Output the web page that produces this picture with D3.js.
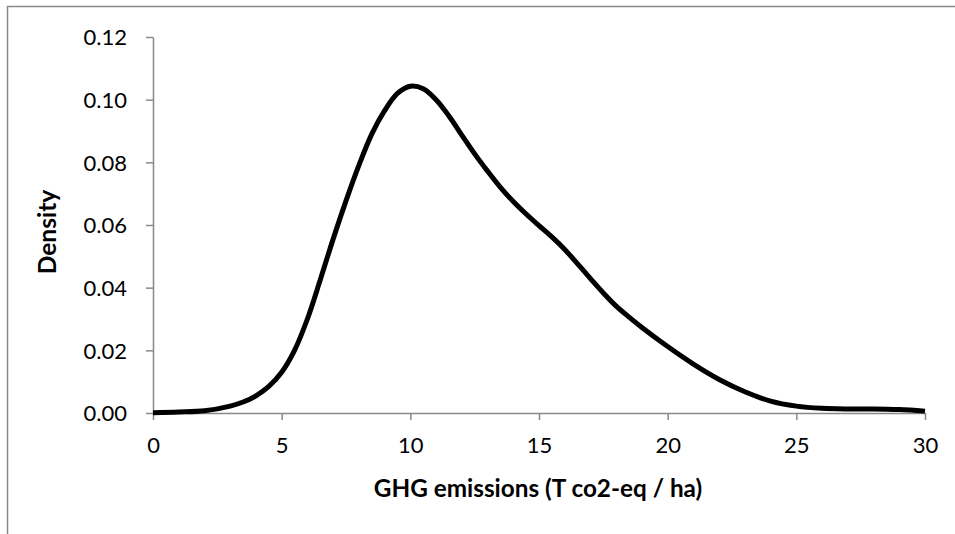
<!DOCTYPE html>
<html>
<head>
<meta charset="utf-8">
<script src="https://cdn.jsdelivr.net/npm/d3@7"></script>
<style>
  html, body { margin: 0; padding: 0; background: #fff; }
  svg { display: block; }
</style>
</head>
<body>
<svg id="chart" width="955" height="534"></svg>
<script>
// ---- data ----
const xValues = [0, 1, 2, 3, 3.5, 4, 4.5, 5, 5.5, 6, 6.5, 7, 7.5, 8, 8.5, 9, 9.5, 10, 10.5, 11, 11.5, 12, 12.5, 13, 13.5, 14, 14.5, 15, 15.5, 16, 16.5, 17, 17.5, 18, 18.5, 19, 20, 21, 22, 23, 24, 25, 26, 27, 28, 29, 30];
const densityValues = [0.0001, 0.0003, 0.0007, 0.0022, 0.0035, 0.0055, 0.0085, 0.0130, 0.0200, 0.0300, 0.0425, 0.0555, 0.0677, 0.0790, 0.0890, 0.0965, 0.1020, 0.1043, 0.1035, 0.1000, 0.0948, 0.0887, 0.0827, 0.0772, 0.0720, 0.0675, 0.0635, 0.0598, 0.0562, 0.0522, 0.0476, 0.0429, 0.0383, 0.0341, 0.0306, 0.0273, 0.0212, 0.0156, 0.0107, 0.0068, 0.0038, 0.0022, 0.0015, 0.0013, 0.0013, 0.0011, 0.0006];
const xTicks = [0, 5, 10, 15, 20, 25, 30];
const yTicks = [0, 0.02, 0.04, 0.06, 0.08, 0.10, 0.12];
const xTitle = "GHG emissions (T co2-eq / ha)";
const yTitle = "Density";

const points = xValues.map((x, i) => ({ x, y: densityValues[i] }));

const svg = d3.select("#chart");
const plot = { left: 153, right: 925, top: 37, bottom: 413 };
const font = "Lato, 'Open Sans', sans-serif";
const gray = "#898989";

// outer chart border (extends beyond the visible window on right/bottom)
svg.append("rect")
  .attr("x", 7.5).attr("y", 6.5)
  .attr("width", 1000).attr("height", 600)
  .attr("fill", "none").attr("stroke", gray).attr("stroke-width", 1.5);

const x = d3.scaleLinear().domain([0, 30]).range([plot.left, plot.right]);
const y = d3.scaleLinear().domain([0, 0.12]).range([plot.bottom, plot.top]);

// axes
const xAxis = d3.axisBottom(x).tickValues(xTicks).tickFormat(d3.format("d"))
  .tickSizeInner(7).tickSizeOuter(0).tickPadding(17);
const yAxis = d3.axisLeft(y).tickValues(yTicks).tickFormat(d3.format(".2f"))
  .tickSizeInner(7).tickSizeOuter(0).tickPadding(19);

const gx = svg.append("g").attr("transform", `translate(0,${plot.bottom})`).call(xAxis);
const gy = svg.append("g").attr("transform", `translate(${plot.left},0)`).call(yAxis);

[gx, gy].forEach(g => {
  g.select(".domain").attr("stroke", gray).attr("stroke-width", 1.5);
  g.selectAll(".tick line").attr("stroke", gray).attr("stroke-width", 1.5);
  g.selectAll(".tick text")
    .attr("font-family", font).attr("font-size", 22).attr("fill", "#000");
});
gy.selectAll(".tick text").attr("dy", "0.36em");
gx.selectAll(".tick text").attr("dy", "0.72em");

// line
const line = d3.line()
  .x(d => x(d.x)).y(d => y(d.y))
  .curve(d3.curveCatmullRom.alpha(0.5));

svg.append("path")
  .datum(points)
  .attr("d", line)
  .attr("fill", "none")
  .attr("stroke", "#000")
  .attr("stroke-width", 5)
  .attr("stroke-linejoin", "round");

// axis titles
svg.append("text")
  .attr("x", (plot.left + plot.right) / 2 - 1)
  .attr("y", 497)
  .attr("text-anchor", "middle")
  .attr("font-family", font).attr("font-weight", "bold").attr("font-size", 24.3)
  .attr("fill", "#000")
  .text(xTitle);

svg.append("text")
  .attr("transform", `translate(56,232) rotate(-90)`)
  .attr("text-anchor", "middle")
  .attr("font-family", font).attr("font-weight", "bold").attr("font-size", 24.5)
  .attr("fill", "#000")
  .text(yTitle);
</script>
</body>
</html>
